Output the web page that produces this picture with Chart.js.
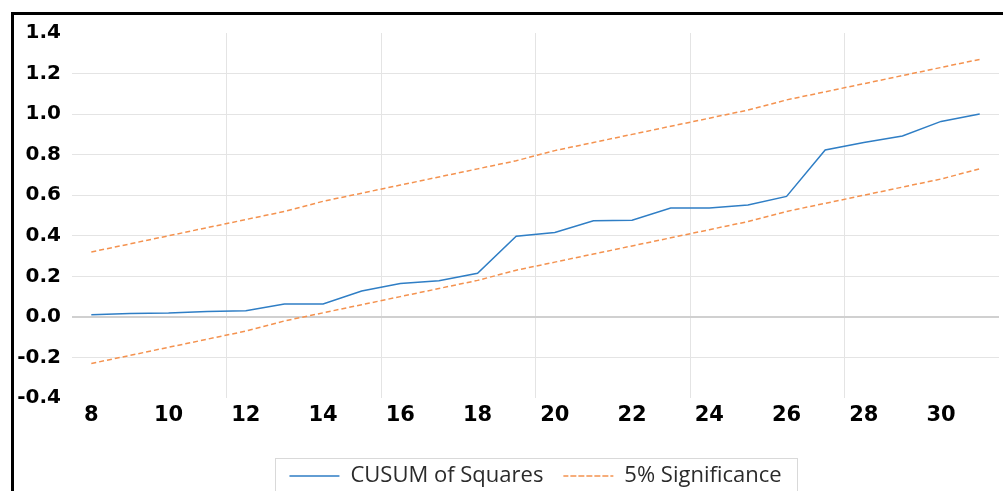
<!DOCTYPE html>
<html>
<head>
<meta charset="utf-8">
<script src="https://cdn.jsdelivr.net/npm/chart.js@4.4.1/dist/chart.umd.min.js"></script>
<style>
html, body { margin: 0; padding: 0; background: #fff; overflow: hidden; }
#wrap { position: relative; width: 1003px; height: 491px; overflow: hidden; }
#frame { position: absolute; left: 11px; top: 12px; width: 1000px; height: 500px; border-top: 3px solid #000; border-left: 3px solid #000; }
canvas { position: absolute; left: 0; top: 0; }
</style>
</head>
<body>
<div id="wrap">
  <div id="frame"></div>
  <canvas id="myChart" width="1003" height="497"></canvas>
</div>
<script>
// periods on the x axis (8 .. 31)
const periods = ['8','9','10','11','12','13','14','15','16','17','18','19',
                 '20','21','22','23','24','25','26','27','28','29','30','31'];
// CUSUM of squares
const cusum = [0.010, 0.017, 0.019, 0.027, 0.030, 0.063, 0.064, 0.128, 0.165, 0.178, 0.215, 0.398,
               0.416, 0.474, 0.477, 0.537, 0.537, 0.552, 0.594, 0.823, 0.860, 0.892, 0.964, 1.000];
// 5% significance bounds
const upper = [0.32, 0.36, 0.40, 0.44, 0.48, 0.52, 0.57, 0.61, 0.65, 0.69, 0.73, 0.77,
               0.82, 0.86, 0.90, 0.94, 0.98, 1.02, 1.07, 1.11, 1.15, 1.19, 1.23, 1.27];
const lower = [-0.23, -0.19, -0.15, -0.11, -0.07, -0.02, 0.02, 0.06, 0.10, 0.14, 0.18, 0.23,
               0.27, 0.31, 0.35, 0.39, 0.43, 0.47, 0.52, 0.56, 0.60, 0.64, 0.68, 0.73];
const yMin = -0.4, yMax = 1.4, yStep = 0.2;

const blue = '#2f7ec5';
const orange = '#f4924f';
const gridCol = '#e4e4e4';

// light grey frame around the legend
const legendBox = {
    id: 'legendBox',
    afterDraw(chart) {
        const lg = chart.legend;
        const hb = lg.legendHitBoxes;
        if (!hb || !hb.length) return;
        const last = hb[hb.length - 1];
        const x0 = Math.round(hb[0].left - 14);
        const x1 = Math.round(last.left + last.width + 15);
        const ctx = chart.ctx;
        ctx.save();
        ctx.strokeStyle = '#d9d9d9';
        ctx.lineWidth = 1;
        ctx.strokeRect(x0 + 0.5, Math.round(lg.top + 13) + 0.5, x1 - x0, 100);
        ctx.restore();
    }
};

const chart = new Chart(document.getElementById('myChart'), {
    type: 'line',
    data: {
        labels: periods,
        datasets: [
            { label: 'CUSUM of Squares', data: cusum, borderColor: blue, backgroundColor: blue, borderWidth: 1.5 },
            { label: '5% Significance', data: upper, borderColor: orange, backgroundColor: orange, borderWidth: 1.5, borderDash: [5, 3] },
            { label: '5% Significance', data: lower, borderColor: orange, backgroundColor: orange, borderWidth: 1.5, borderDash: [5, 3] }
        ]
    },
    options: {
        responsive: false,
        animation: false,
        layout: { padding: { top: 33, right: 4, left: 0, bottom: 0 } },
        elements: {
            point: { radius: 0, hoverRadius: 0 },
            line: { tension: 0 }
        },
        plugins: {
            tooltip: { enabled: false },
            legend: {
                position: 'bottom',
                fullSize: false,
                labels: {
                    boxWidth: 50,
                    boxHeight: 0,
                    padding: 20,
                    color: '#2b2b2b',
                    font: { family: 'Open Sans', size: 22 },
                    filter: (item) => item.datasetIndex < 2
                }
            }
        },
        scales: {
            x: {
                offset: true,
                border: { display: false },
                grid: {
                    offset: true,
                    drawTicks: false,
                    lineWidth: 1,
                    color: (c) => (c.index > 0 && c.index % 4 === 0) ? gridCol : 'rgba(0,0,0,0)'
                },
                ticks: {
                    autoSkip: false,
                    maxRotation: 0,
                    padding: 5,
                    color: '#000',
                    font: { family: 'DejaVu Sans', weight: 'bold', size: 21 },
                    callback: (v, i) => i % 2 === 0 ? periods[i] : ''
                },
                afterFit: (s) => { s.height = 47; }
            },
            y: {
                min: yMin,
                max: yMax,
                border: { display: false },
                grid: {
                    drawTicks: false,
                    color: (c) => {
                        const v = Math.round(c.tick.value * 10) / 10;
                        if (v === yMin || v === yMax) return 'rgba(0,0,0,0)';
                        return v === 0 ? '#d0d0d0' : gridCol;
                    },
                    lineWidth: (c) => Math.round(c.tick.value * 10) === 0 ? 2 : 1
                },
                ticks: {
                    stepSize: yStep,
                    padding: 11,
                    color: '#000',
                    font: { family: 'DejaVu Sans', weight: 'bold', size: 20 },
                    callback: (v) => Math.abs(v) < 1e-9 ? '0.0' : Number(v).toFixed(1)
                },
                afterFit: (s) => { s.width = 72; }
            }
        }
    },
    plugins: [legendBox]
});
</script>
</body>
</html>
